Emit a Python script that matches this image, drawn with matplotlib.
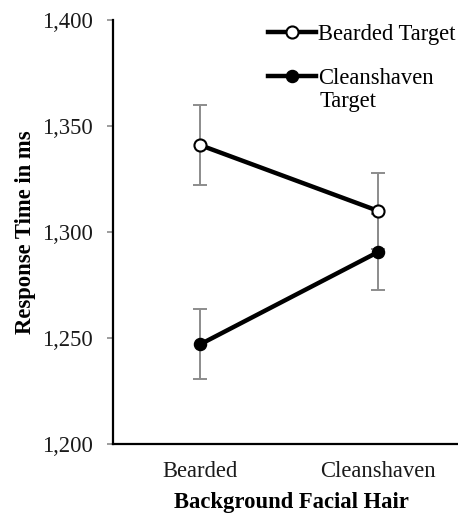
import matplotlib
matplotlib.use("Agg")
import matplotlib.pyplot as plt

# data
categories = ["Bearded", "Cleanshaven"]
bearded_target = [1341, 1310]
bearded_err = [19, 18]
clean_target = [1247, 1290.5]
clean_err = [16.5, 18]
yticks = [1200, 1250, 1300, 1350, 1400]

plt.rcParams["font.family"] = ["Liberation Serif", "DejaVu Serif"]
W, H = 458, 515
FS = 16.3
fig = plt.figure(figsize=(W / 100, H / 100), dpi=100)

# axes in pixel terms: left spine x=113, bottom y=444, top y=20
ax = fig.add_axes([113 / W, (H - 444) / H, (465 - 113) / W, 424 / H])

x = list(range(len(categories)))
ax.errorbar(x, bearded_target, yerr=bearded_err, fmt="none", ecolor="#8c8c8c",
            elinewidth=1.4, capsize=5, capthick=1.4, zorder=2)
ax.errorbar(x, clean_target, yerr=clean_err, fmt="none", ecolor="#8c8c8c",
            elinewidth=1.4, capsize=5, capthick=1.4, zorder=2)
l1, = ax.plot(x, bearded_target, "-o", color="black", lw=3.2, ms=8.7,
              mfc="white", mec="black", mew=1.5, zorder=3)
l2, = ax.plot(x, clean_target, "-o", color="black", lw=3.2, ms=8.7,
              mfc="black", mec="black", zorder=3)

ax.set_xlim(-0.49, 1.49)
ax.set_ylim(1200, 1400)
ax.set_yticks(yticks)
ax.set_yticklabels([f"{v:,}" for v in yticks])
ax.set_xticks(x)
ax.set_xticklabels(categories)
ax.tick_params(axis="x", length=0, pad=12, labelsize=FS, colors="#1a1a1a")
ax.tick_params(axis="y", length=4.3, width=1.2, color="#8c8c8c", pad=10.5,
               labelsize=FS, labelcolor="#1a1a1a")

for s in ["top", "right"]:
    ax.spines[s].set_visible(False)
for s in ["left", "bottom"]:
    ax.spines[s].set_linewidth(1.6)
    ax.spines[s].set_color("black")

ax.set_xlabel("Background Facial Hair", fontsize=FS, fontweight="bold")
ax.set_ylabel("Response Time in ms", fontsize=FS, fontweight="bold")
ax.xaxis.set_label_coords((291 - 113) / (465 - 113), -(492 - 444) / 424)
ax.yaxis.set_label_coords(-(113 - 36) / (465 - 113), 0.5)

fig.legend([l1, l2], ["Bearded Target", "Cleanshaven"], loc="upper left",
           bbox_to_anchor=(268 / W, 1 - 24 / H), frameon=False, fontsize=FS,
           handlelength=2.1, handletextpad=0.12, labelspacing=1.0,
           borderpad=0, borderaxespad=0)
fig.text(320 / W, 1 - 102 / H, "Target", fontsize=FS, va="center", ha="left")

fig.savefig("out.png", dpi=100)
